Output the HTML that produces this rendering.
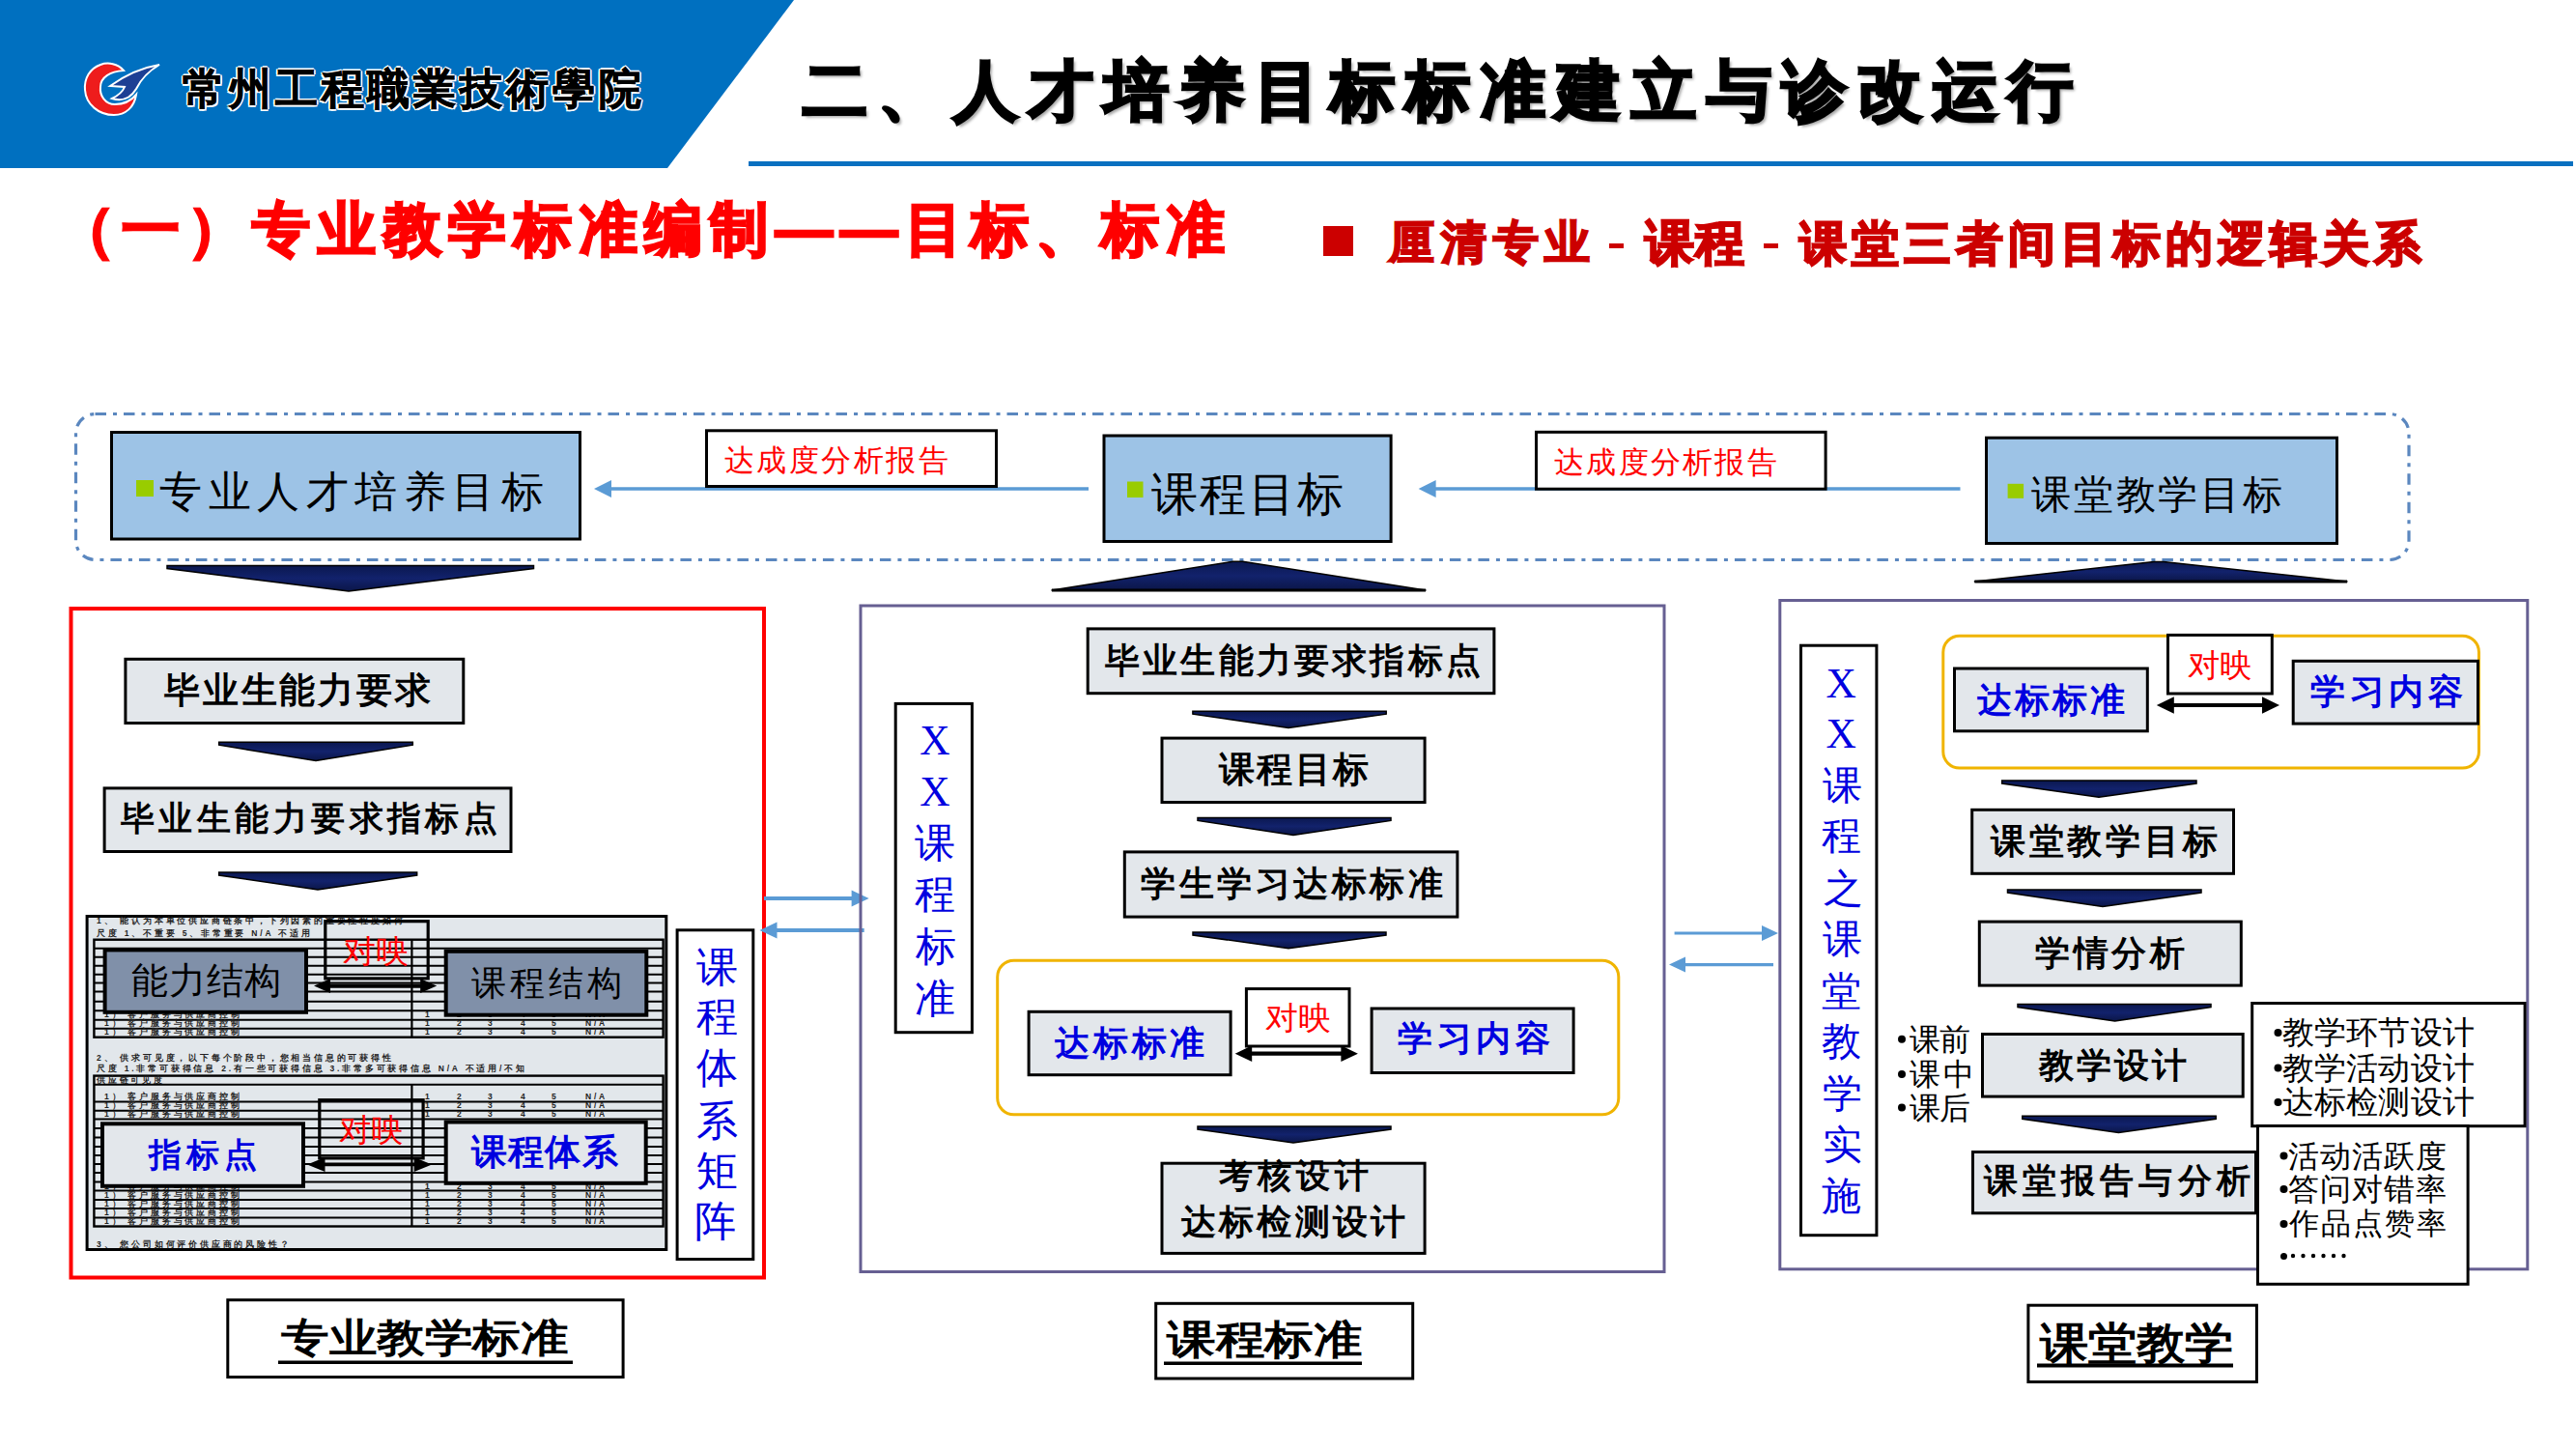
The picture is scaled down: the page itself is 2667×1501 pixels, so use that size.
<!DOCTYPE html><html><head><meta charset="utf-8"><style>html,body{margin:0;padding:0;background:#fff;width:2667px;height:1501px;overflow:hidden;}.t{position:absolute;white-space:nowrap;line-height:1;}svg{position:absolute;left:0;top:0;}</style></head><body>
<svg width="2667" height="1501" viewBox="0 0 2667 1501"><defs><linearGradient id="navy" x1="0" y1="0" x2="0" y2="1"><stop offset="0" stop-color="#0B1850"/><stop offset="0.5" stop-color="#12226C"/><stop offset="1" stop-color="#0B1648"/></linearGradient></defs><polygon points="0,0 822,0 691,174 0,174" fill="#0070C0"/><rect x="775" y="167" width="1889" height="5" fill="#0A70C0"/><path d="M128,73 C122,66 112,64 104,67 C93,71 87,81 88,93 C89,108 102,119 118,119 C130,119 139,111 141,98 C136,104 128,108 119,108 C109,108 103,99 104,90 C104,80 114,74 128,73 Z" fill="#EE1C1C" stroke="#fff" stroke-width="2"/><path d="M116,102 C122,99 127,95 129,90 L114,89 C128,79 147,70 165,67 C153,74 146,82 141,92 C135,102 126,105 116,102 Z" fill="#1D3F94" stroke="#fff" stroke-width="2"/><rect x="1370" y="234" width="31" height="31" fill="#CC0000"/><rect x="1666" y="252" width="15" height="5" fill="#CC0000"/><rect x="1826" y="252" width="15" height="5" fill="#CC0000"/><rect x="78.5" y="428.5" width="2415.5" height="151" rx="20" fill="none" stroke="#5B87BF" stroke-width="3.2" stroke-dasharray="11.5 7 4 7"/><rect x="115.5" y="447.5" width="485" height="110.5" fill="#9DC3E6" stroke="#000" stroke-width="3"/><rect x="1143.0" y="451.0" width="297.0999999999999" height="109.5" fill="#9DC3E6" stroke="#000" stroke-width="3"/><rect x="2056.5" y="453.2" width="363" height="109.30000000000001" fill="#9DC3E6" stroke="#000" stroke-width="3"/><rect x="141" y="497" width="18" height="17" fill="#99CC00"/><rect x="1167" y="498.5" width="16.5" height="16.5" fill="#99CC00"/><rect x="2078.6" y="500.8" width="16.5" height="15" fill="#99CC00"/><line x1="1127" y1="506" x2="631" y2="506" stroke="#5B9BD5" stroke-width="3.5"/><polygon points="615,506 633,497 633,515" fill="#5B9BD5"/><line x1="2029.5" y1="506" x2="1484.6" y2="506" stroke="#5B9BD5" stroke-width="3.5"/><polygon points="1468.6,506 1486.6,497 1486.6,515" fill="#5B9BD5"/><rect x="731.5" y="445.8" width="300" height="57.69999999999999" fill="#fff" stroke="#000" stroke-width="3"/><rect x="1590.5" y="447.3" width="299.5999999999999" height="58.89999999999998" fill="#fff" stroke="#000" stroke-width="3"/><polygon points="173,585.6 552.5,585.6 552.5,588.6 361,612 173,588.6" fill="url(#navy)" stroke="#000" stroke-width="1.5" stroke-linejoin="miter"/><polygon points="1089,611 1276.6,581.2 1286.6,581.2 1476,611" fill="url(#navy)" stroke="#000" stroke-width="1.5" stroke-linejoin="round"/><line x1="1089" y1="611" x2="1476" y2="611" stroke="#000" stroke-width="3"/><polygon points="2044.4,602 2230,581.5 2240,581.5 2430,602" fill="url(#navy)" stroke="#000" stroke-width="1.5" stroke-linejoin="round"/><line x1="2044.4" y1="602" x2="2430" y2="602" stroke="#000" stroke-width="3"/><rect x="73.5" y="630.0" width="717.5" height="692.5" fill="none" stroke="#FF0000" stroke-width="4"/><rect x="129.9" y="682.3" width="349.9" height="66.20000000000005" fill="#E3E7EB" stroke="#000" stroke-width="3"/><polygon points="226.7,768.2 427.3,768.2 427.3,771.2 327,787.5 226.7,771.2" fill="url(#navy)" stroke="#000" stroke-width="1.5" stroke-linejoin="miter"/><rect x="108.1" y="815.9" width="420.9" height="65.60000000000002" fill="#E3E7EB" stroke="#000" stroke-width="3"/><polygon points="226.7,903 431.7,903 431.7,906 329,921 226.7,906" fill="url(#navy)" stroke="#000" stroke-width="1.5" stroke-linejoin="miter"/><rect x="90.1" y="948.5" width="599.6999999999999" height="345" fill="#E2E7EB" stroke="#000" stroke-width="3"/><rect x="97.4" y="972.7" width="589.2" height="101.0" fill="none" stroke="#000" stroke-width="2.4"/><line x1="97.4" y1="981.8" x2="686.6" y2="981.8" stroke="#000" stroke-width="2"/><line x1="97.4" y1="990.8" x2="686.6" y2="990.8" stroke="#000" stroke-width="2"/><line x1="97.4" y1="999.7" x2="686.6" y2="999.7" stroke="#000" stroke-width="2"/><line x1="97.4" y1="1008.7" x2="686.6" y2="1008.7" stroke="#000" stroke-width="2"/><line x1="97.4" y1="1017.6" x2="686.6" y2="1017.6" stroke="#000" stroke-width="2"/><line x1="97.4" y1="1026.6" x2="686.6" y2="1026.6" stroke="#000" stroke-width="2"/><line x1="97.4" y1="1036.7" x2="686.6" y2="1036.7" stroke="#000" stroke-width="2"/><line x1="97.4" y1="1046.2" x2="686.6" y2="1046.2" stroke="#000" stroke-width="2"/><line x1="97.4" y1="1055.8" x2="686.6" y2="1055.8" stroke="#000" stroke-width="2"/><line x1="97.4" y1="1064.8" x2="686.6" y2="1064.8" stroke="#000" stroke-width="2"/><line x1="426.4" y1="972.7" x2="426.4" y2="1073.7" stroke="#000" stroke-width="2.2"/><rect x="97.4" y="1113.6" width="589.2" height="155.9000000000001" fill="none" stroke="#000" stroke-width="2.4"/><line x1="97.4" y1="1122.7" x2="686.6" y2="1122.7" stroke="#000" stroke-width="2"/><line x1="97.4" y1="1140.6" x2="686.6" y2="1140.6" stroke="#000" stroke-width="2"/><line x1="97.4" y1="1149.7" x2="686.6" y2="1149.7" stroke="#000" stroke-width="2"/><line x1="97.4" y1="1158.5" x2="686.6" y2="1158.5" stroke="#000" stroke-width="2"/><line x1="97.4" y1="1168" x2="686.6" y2="1168" stroke="#000" stroke-width="2"/><line x1="97.4" y1="1177.6" x2="686.6" y2="1177.6" stroke="#000" stroke-width="2"/><line x1="97.4" y1="1187" x2="686.6" y2="1187" stroke="#000" stroke-width="2"/><line x1="97.4" y1="1196" x2="686.6" y2="1196" stroke="#000" stroke-width="2"/><line x1="97.4" y1="1205" x2="686.6" y2="1205" stroke="#000" stroke-width="2"/><line x1="97.4" y1="1214" x2="686.6" y2="1214" stroke="#000" stroke-width="2"/><line x1="97.4" y1="1223.6" x2="686.6" y2="1223.6" stroke="#000" stroke-width="2"/><line x1="97.4" y1="1232.5" x2="686.6" y2="1232.5" stroke="#000" stroke-width="2"/><line x1="97.4" y1="1242" x2="686.6" y2="1242" stroke="#000" stroke-width="2"/><line x1="97.4" y1="1251" x2="686.6" y2="1251" stroke="#000" stroke-width="2"/><line x1="97.4" y1="1260.6" x2="686.6" y2="1260.6" stroke="#000" stroke-width="2"/><line x1="426.4" y1="1122.7" x2="426.4" y2="1269.5" stroke="#000" stroke-width="2.2"/><text x="100" y="956" font-size="8.5" fill="#222" font-weight="700" font-family="Liberation Sans, sans-serif" letter-spacing="2.8">1、 能认为本单位供应商链条中，下列因素的重要性程度如何</text><text x="100" y="969" font-size="8.5" fill="#222" font-weight="700" font-family="Liberation Sans, sans-serif" letter-spacing="2.8">尺度  1、不重要  5、非常重要   N/A  不适用</text><text x="100" y="1098" font-size="8.5" fill="#222" font-weight="700" font-family="Liberation Sans, sans-serif" letter-spacing="2.8">2、 供求可见度，以下每个阶段中，您相当信息的可获得性</text><text x="100" y="1109" font-size="8.5" fill="#222" font-weight="700" font-family="Liberation Sans, sans-serif" letter-spacing="2.8">尺度  1.非常可获得信息  2.有一些可获得信息 3.非常多可获得信息     N/A  不适用/不知</text><text x="100" y="1121" font-size="8.5" fill="#222" font-weight="700" font-family="Liberation Sans, sans-serif" letter-spacing="2.8">供应链可见度</text><text x="100" y="1291" font-size="8.5" fill="#222" font-weight="700" font-family="Liberation Sans, sans-serif" letter-spacing="2.8">3、 您公司如何评价供应商的风险性？</text><text x="108" y="1071" font-size="8.5" fill="#222" font-weight="700" font-family="Liberation Sans, sans-serif" letter-spacing="2.8">1） 客户服务与供应商控制</text><text x="440" y="1071" font-size="8.5" fill="#222" font-weight="700" font-family="Liberation Sans, sans-serif" letter-spacing="2.8">1</text><text x="473" y="1071" font-size="8.5" fill="#222" font-weight="700" font-family="Liberation Sans, sans-serif" letter-spacing="2.8">2</text><text x="505" y="1071" font-size="8.5" fill="#222" font-weight="700" font-family="Liberation Sans, sans-serif" letter-spacing="2.8">3</text><text x="539" y="1071" font-size="8.5" fill="#222" font-weight="700" font-family="Liberation Sans, sans-serif" letter-spacing="2.8">4</text><text x="571" y="1071" font-size="8.5" fill="#222" font-weight="700" font-family="Liberation Sans, sans-serif" letter-spacing="2.8">5</text><text x="606" y="1071" font-size="8.5" fill="#222" font-weight="700" font-family="Liberation Sans, sans-serif" letter-spacing="2.8">N/A</text><text x="108" y="1062" font-size="8.5" fill="#222" font-weight="700" font-family="Liberation Sans, sans-serif" letter-spacing="2.8">1） 客户服务与供应商控制</text><text x="440" y="1062" font-size="8.5" fill="#222" font-weight="700" font-family="Liberation Sans, sans-serif" letter-spacing="2.8">1</text><text x="473" y="1062" font-size="8.5" fill="#222" font-weight="700" font-family="Liberation Sans, sans-serif" letter-spacing="2.8">2</text><text x="505" y="1062" font-size="8.5" fill="#222" font-weight="700" font-family="Liberation Sans, sans-serif" letter-spacing="2.8">3</text><text x="539" y="1062" font-size="8.5" fill="#222" font-weight="700" font-family="Liberation Sans, sans-serif" letter-spacing="2.8">4</text><text x="571" y="1062" font-size="8.5" fill="#222" font-weight="700" font-family="Liberation Sans, sans-serif" letter-spacing="2.8">5</text><text x="606" y="1062" font-size="8.5" fill="#222" font-weight="700" font-family="Liberation Sans, sans-serif" letter-spacing="2.8">N/A</text><text x="108" y="1053" font-size="8.5" fill="#222" font-weight="700" font-family="Liberation Sans, sans-serif" letter-spacing="2.8">1） 客户服务与供应商控制</text><text x="440" y="1053" font-size="8.5" fill="#222" font-weight="700" font-family="Liberation Sans, sans-serif" letter-spacing="2.8">1</text><text x="473" y="1053" font-size="8.5" fill="#222" font-weight="700" font-family="Liberation Sans, sans-serif" letter-spacing="2.8">2</text><text x="505" y="1053" font-size="8.5" fill="#222" font-weight="700" font-family="Liberation Sans, sans-serif" letter-spacing="2.8">3</text><text x="539" y="1053" font-size="8.5" fill="#222" font-weight="700" font-family="Liberation Sans, sans-serif" letter-spacing="2.8">4</text><text x="571" y="1053" font-size="8.5" fill="#222" font-weight="700" font-family="Liberation Sans, sans-serif" letter-spacing="2.8">5</text><text x="606" y="1053" font-size="8.5" fill="#222" font-weight="700" font-family="Liberation Sans, sans-serif" letter-spacing="2.8">N/A</text><text x="108" y="1147" font-size="8.5" fill="#222" font-weight="700" font-family="Liberation Sans, sans-serif" letter-spacing="2.8">1） 客户服务与供应商控制</text><text x="440" y="1147" font-size="8.5" fill="#222" font-weight="700" font-family="Liberation Sans, sans-serif" letter-spacing="2.8">1</text><text x="473" y="1147" font-size="8.5" fill="#222" font-weight="700" font-family="Liberation Sans, sans-serif" letter-spacing="2.8">2</text><text x="505" y="1147" font-size="8.5" fill="#222" font-weight="700" font-family="Liberation Sans, sans-serif" letter-spacing="2.8">3</text><text x="539" y="1147" font-size="8.5" fill="#222" font-weight="700" font-family="Liberation Sans, sans-serif" letter-spacing="2.8">4</text><text x="571" y="1147" font-size="8.5" fill="#222" font-weight="700" font-family="Liberation Sans, sans-serif" letter-spacing="2.8">5</text><text x="606" y="1147" font-size="8.5" fill="#222" font-weight="700" font-family="Liberation Sans, sans-serif" letter-spacing="2.8">N/A</text><text x="108" y="1156" font-size="8.5" fill="#222" font-weight="700" font-family="Liberation Sans, sans-serif" letter-spacing="2.8">1） 客户服务与供应商控制</text><text x="440" y="1156" font-size="8.5" fill="#222" font-weight="700" font-family="Liberation Sans, sans-serif" letter-spacing="2.8">1</text><text x="473" y="1156" font-size="8.5" fill="#222" font-weight="700" font-family="Liberation Sans, sans-serif" letter-spacing="2.8">2</text><text x="505" y="1156" font-size="8.5" fill="#222" font-weight="700" font-family="Liberation Sans, sans-serif" letter-spacing="2.8">3</text><text x="539" y="1156" font-size="8.5" fill="#222" font-weight="700" font-family="Liberation Sans, sans-serif" letter-spacing="2.8">4</text><text x="571" y="1156" font-size="8.5" fill="#222" font-weight="700" font-family="Liberation Sans, sans-serif" letter-spacing="2.8">5</text><text x="606" y="1156" font-size="8.5" fill="#222" font-weight="700" font-family="Liberation Sans, sans-serif" letter-spacing="2.8">N/A</text><text x="108" y="1267" font-size="8.5" fill="#222" font-weight="700" font-family="Liberation Sans, sans-serif" letter-spacing="2.8">1） 客户服务与供应商控制</text><text x="440" y="1267" font-size="8.5" fill="#222" font-weight="700" font-family="Liberation Sans, sans-serif" letter-spacing="2.8">1</text><text x="473" y="1267" font-size="8.5" fill="#222" font-weight="700" font-family="Liberation Sans, sans-serif" letter-spacing="2.8">2</text><text x="505" y="1267" font-size="8.5" fill="#222" font-weight="700" font-family="Liberation Sans, sans-serif" letter-spacing="2.8">3</text><text x="539" y="1267" font-size="8.5" fill="#222" font-weight="700" font-family="Liberation Sans, sans-serif" letter-spacing="2.8">4</text><text x="571" y="1267" font-size="8.5" fill="#222" font-weight="700" font-family="Liberation Sans, sans-serif" letter-spacing="2.8">5</text><text x="606" y="1267" font-size="8.5" fill="#222" font-weight="700" font-family="Liberation Sans, sans-serif" letter-spacing="2.8">N/A</text><text x="108" y="1258" font-size="8.5" fill="#222" font-weight="700" font-family="Liberation Sans, sans-serif" letter-spacing="2.8">1） 客户服务与供应商控制</text><text x="440" y="1258" font-size="8.5" fill="#222" font-weight="700" font-family="Liberation Sans, sans-serif" letter-spacing="2.8">1</text><text x="473" y="1258" font-size="8.5" fill="#222" font-weight="700" font-family="Liberation Sans, sans-serif" letter-spacing="2.8">2</text><text x="505" y="1258" font-size="8.5" fill="#222" font-weight="700" font-family="Liberation Sans, sans-serif" letter-spacing="2.8">3</text><text x="539" y="1258" font-size="8.5" fill="#222" font-weight="700" font-family="Liberation Sans, sans-serif" letter-spacing="2.8">4</text><text x="571" y="1258" font-size="8.5" fill="#222" font-weight="700" font-family="Liberation Sans, sans-serif" letter-spacing="2.8">5</text><text x="606" y="1258" font-size="8.5" fill="#222" font-weight="700" font-family="Liberation Sans, sans-serif" letter-spacing="2.8">N/A</text><text x="108" y="1249" font-size="8.5" fill="#222" font-weight="700" font-family="Liberation Sans, sans-serif" letter-spacing="2.8">1） 客户服务与供应商控制</text><text x="440" y="1249" font-size="8.5" fill="#222" font-weight="700" font-family="Liberation Sans, sans-serif" letter-spacing="2.8">1</text><text x="473" y="1249" font-size="8.5" fill="#222" font-weight="700" font-family="Liberation Sans, sans-serif" letter-spacing="2.8">2</text><text x="505" y="1249" font-size="8.5" fill="#222" font-weight="700" font-family="Liberation Sans, sans-serif" letter-spacing="2.8">3</text><text x="539" y="1249" font-size="8.5" fill="#222" font-weight="700" font-family="Liberation Sans, sans-serif" letter-spacing="2.8">4</text><text x="571" y="1249" font-size="8.5" fill="#222" font-weight="700" font-family="Liberation Sans, sans-serif" letter-spacing="2.8">5</text><text x="606" y="1249" font-size="8.5" fill="#222" font-weight="700" font-family="Liberation Sans, sans-serif" letter-spacing="2.8">N/A</text><text x="108" y="1240" font-size="8.5" fill="#222" font-weight="700" font-family="Liberation Sans, sans-serif" letter-spacing="2.8">1） 客户服务与供应商控制</text><text x="440" y="1240" font-size="8.5" fill="#222" font-weight="700" font-family="Liberation Sans, sans-serif" letter-spacing="2.8">1</text><text x="473" y="1240" font-size="8.5" fill="#222" font-weight="700" font-family="Liberation Sans, sans-serif" letter-spacing="2.8">2</text><text x="505" y="1240" font-size="8.5" fill="#222" font-weight="700" font-family="Liberation Sans, sans-serif" letter-spacing="2.8">3</text><text x="539" y="1240" font-size="8.5" fill="#222" font-weight="700" font-family="Liberation Sans, sans-serif" letter-spacing="2.8">4</text><text x="571" y="1240" font-size="8.5" fill="#222" font-weight="700" font-family="Liberation Sans, sans-serif" letter-spacing="2.8">5</text><text x="606" y="1240" font-size="8.5" fill="#222" font-weight="700" font-family="Liberation Sans, sans-serif" letter-spacing="2.8">N/A</text><text x="108" y="1231" font-size="8.5" fill="#222" font-weight="700" font-family="Liberation Sans, sans-serif" letter-spacing="2.8">1） 客户服务与供应商控制</text><text x="440" y="1231" font-size="8.5" fill="#222" font-weight="700" font-family="Liberation Sans, sans-serif" letter-spacing="2.8">1</text><text x="473" y="1231" font-size="8.5" fill="#222" font-weight="700" font-family="Liberation Sans, sans-serif" letter-spacing="2.8">2</text><text x="505" y="1231" font-size="8.5" fill="#222" font-weight="700" font-family="Liberation Sans, sans-serif" letter-spacing="2.8">3</text><text x="539" y="1231" font-size="8.5" fill="#222" font-weight="700" font-family="Liberation Sans, sans-serif" letter-spacing="2.8">4</text><text x="571" y="1231" font-size="8.5" fill="#222" font-weight="700" font-family="Liberation Sans, sans-serif" letter-spacing="2.8">5</text><text x="606" y="1231" font-size="8.5" fill="#222" font-weight="700" font-family="Liberation Sans, sans-serif" letter-spacing="2.8">N/A</text><text x="108" y="1138" font-size="8.5" fill="#222" font-weight="700" font-family="Liberation Sans, sans-serif" letter-spacing="2.8">1） 客户服务与供应商控制</text><text x="440" y="1138" font-size="8.5" fill="#222" font-weight="700" font-family="Liberation Sans, sans-serif" letter-spacing="2.8">1</text><text x="473" y="1138" font-size="8.5" fill="#222" font-weight="700" font-family="Liberation Sans, sans-serif" letter-spacing="2.8">2</text><text x="505" y="1138" font-size="8.5" fill="#222" font-weight="700" font-family="Liberation Sans, sans-serif" letter-spacing="2.8">3</text><text x="539" y="1138" font-size="8.5" fill="#222" font-weight="700" font-family="Liberation Sans, sans-serif" letter-spacing="2.8">4</text><text x="571" y="1138" font-size="8.5" fill="#222" font-weight="700" font-family="Liberation Sans, sans-serif" letter-spacing="2.8">5</text><text x="606" y="1138" font-size="8.5" fill="#222" font-weight="700" font-family="Liberation Sans, sans-serif" letter-spacing="2.8">N/A</text><rect x="336.8" y="953.7" width="106.40000000000002" height="59.199999999999974" fill="none" stroke="#000" stroke-width="3.2"/><rect x="108.6" y="983.4" width="208.4" height="64.39999999999998" fill="#8090A9" stroke="#000" stroke-width="4"/><rect x="461.7" y="984.8" width="207.59999999999997" height="65.90000000000009" fill="#8090A9" stroke="#000" stroke-width="4"/><line x1="340" y1="1020.6" x2="437.2" y2="1020.6" stroke="#000" stroke-width="4.2"/><polygon points="325,1020.6 342,1013.1 342,1028.1" fill="#000"/><polygon points="452.2,1020.6 435.2,1013.1 435.2,1028.1" fill="#000"/><rect x="330.8" y="1138.6999999999998" width="107.3" height="60.20000000000009" fill="none" stroke="#000" stroke-width="3.2"/><rect x="106.0" y="1163.3" width="208" height="64.5" fill="#E3E7EB" stroke="#000" stroke-width="4"/><rect x="461.7" y="1161.5" width="207.00000000000006" height="63.299999999999955" fill="#E3E7EB" stroke="#000" stroke-width="4"/><line x1="334.5" y1="1205.4" x2="430.7" y2="1205.4" stroke="#000" stroke-width="3.8"/><polygon points="318,1205.4 336.5,1197.9 336.5,1212.9" fill="#000"/><polygon points="447.2,1205.4 428.7,1197.9 428.7,1212.9" fill="#000"/><rect x="701.1" y="962.8" width="78.69999999999993" height="340.70000000000005" fill="#fff" stroke="#000" stroke-width="3"/><line x1="791" y1="930" x2="883.6" y2="930" stroke="#5B9BD5" stroke-width="4"/><polygon points="899.6,930 881.6,921.5 881.6,938.5" fill="#5B9BD5"/><line x1="894.7" y1="963" x2="802.5" y2="963" stroke="#5B9BD5" stroke-width="4"/><polygon points="786.5,963 804.5,954.5 804.5,971.5" fill="#5B9BD5"/><line x1="1733.6" y1="966" x2="1826" y2="966" stroke="#5B9BD5" stroke-width="3.2"/><polygon points="1841,966 1824,958 1824,974" fill="#5B9BD5"/><line x1="1836" y1="998.6" x2="1743" y2="998.6" stroke="#5B9BD5" stroke-width="3.2"/><polygon points="1728,998.6 1745,990.6 1745,1006.6" fill="#5B9BD5"/><rect x="891.0" y="627.0" width="832.0" height="689.5" fill="none" stroke="#665F92" stroke-width="3"/><rect x="927.2" y="728.4" width="79.19999999999993" height="340.30000000000007" fill="#fff" stroke="#000" stroke-width="3"/><rect x="1126.2" y="650.9" width="420.70000000000005" height="66.80000000000007" fill="#E3E7EB" stroke="#000" stroke-width="3"/><polygon points="1234.9,736.2 1435.2,736.2 1435.2,739.2 1334,753.6 1234.9,739.2" fill="url(#navy)" stroke="#000" stroke-width="1.5" stroke-linejoin="miter"/><rect x="1203.0" y="764.1" width="272.0999999999999" height="66.39999999999998" fill="#E3E7EB" stroke="#000" stroke-width="3"/><polygon points="1240,846.4 1440,846.4 1440,849.4 1339,864.4 1240,849.4" fill="url(#navy)" stroke="#000" stroke-width="1.5" stroke-linejoin="miter"/><rect x="1164.3" y="881.9" width="344.60000000000014" height="67.20000000000005" fill="#E3E7EB" stroke="#000" stroke-width="3"/><polygon points="1235,965 1435,965 1435,968 1334,981.7 1235,968" fill="url(#navy)" stroke="#000" stroke-width="1.5" stroke-linejoin="miter"/><rect x="1032.7" y="994.2" width="643.1" height="159.6" rx="17" fill="none" stroke="#F0B400" stroke-width="3"/><rect x="1065.1" y="1047.3" width="209.0" height="65.40000000000009" fill="#E3E7EB" stroke="#000" stroke-width="3"/><rect x="1290.4" y="1023.6" width="106.59999999999991" height="59.39999999999998" fill="#fff" stroke="#000" stroke-width="3"/><line x1="1294.2" y1="1090.7" x2="1390.4" y2="1090.7" stroke="#000" stroke-width="4.3"/><polygon points="1278.7,1090.7 1296.2,1082.3 1296.2,1099.1000000000001" fill="#000"/><polygon points="1405.9,1090.7 1388.4,1082.3 1388.4,1099.1000000000001" fill="#000"/><rect x="1420.1" y="1044.0" width="209.0" height="66.5" fill="#E3E7EB" stroke="#000" stroke-width="3"/><polygon points="1240,1166 1440,1166 1440,1169 1339,1183 1240,1169" fill="url(#navy)" stroke="#000" stroke-width="1.5" stroke-linejoin="miter"/><rect x="1203.0" y="1204.2" width="272.0999999999999" height="93.20000000000005" fill="#E3E7EB" stroke="#000" stroke-width="3"/><rect x="1842.8" y="621.5" width="774.0000000000002" height="692.3" fill="none" stroke="#665F92" stroke-width="3"/><rect x="1864.5" y="668.2" width="78.40000000000009" height="610.5" fill="#fff" stroke="#000" stroke-width="3"/><rect x="2011.8" y="658.2" width="554.7" height="136.9" rx="17" fill="none" stroke="#F0B400" stroke-width="3"/><rect x="2023.5" y="692.0" width="199.80000000000018" height="64.79999999999995" fill="#E3E7EB" stroke="#000" stroke-width="3"/><rect x="2244.5" y="657.4" width="107.80000000000018" height="60.60000000000002" fill="#fff" stroke="#000" stroke-width="3"/><line x1="2248.8" y1="730" x2="2344" y2="730" stroke="#000" stroke-width="3.8"/><polygon points="2232.8,730 2250.8,721.3 2250.8,738.7" fill="#000"/><polygon points="2360,730 2342,721.3 2342,738.7" fill="#000"/><rect x="2374.2" y="684.3" width="191.30000000000018" height="64.80000000000007" fill="#E3E7EB" stroke="#000" stroke-width="3"/><polygon points="2072.7,808 2274,808 2274,811 2173,825.3 2072.7,811" fill="url(#navy)" stroke="#000" stroke-width="1.5" stroke-linejoin="miter"/><rect x="2041.7" y="838.3" width="270.79999999999995" height="66.0" fill="#E3E7EB" stroke="#000" stroke-width="3"/><polygon points="2078.5,921 2279,921 2279,924 2177,938.4 2078.5,924" fill="url(#navy)" stroke="#000" stroke-width="1.5" stroke-linejoin="miter"/><rect x="2049.3" y="954.1" width="271.0000000000002" height="66.0" fill="#E3E7EB" stroke="#000" stroke-width="3"/><polygon points="2089,1039.6 2289,1039.6 2289,1042.6 2189.6,1056.9 2089,1042.6" fill="url(#navy)" stroke="#000" stroke-width="1.5" stroke-linejoin="miter"/><rect x="2052.5" y="1070.5" width="269.6999999999998" height="64.59999999999991" fill="#E3E7EB" stroke="#000" stroke-width="3"/><polygon points="2093.8,1155.3 2294.2,1155.3 2294.2,1158.3 2193.4,1172.6 2093.8,1158.3" fill="url(#navy)" stroke="#000" stroke-width="1.5" stroke-linejoin="miter"/><rect x="2042.5" y="1192.5" width="293" height="63.299999999999955" fill="#E3E7EB" stroke="#000" stroke-width="3"/><circle cx="1969" cy="1075.7" r="4" fill="#000"/><circle cx="1969" cy="1112" r="4" fill="#000"/><circle cx="1969" cy="1146.6" r="4" fill="#000"/><rect x="2331.7" y="1038.5" width="282.4000000000001" height="127.20000000000005" fill="#fff" stroke="#000" stroke-width="3"/><rect x="2337.5" y="1165.5" width="217.5999999999999" height="163.79999999999995" fill="#fff" stroke="#000" stroke-width="3"/><circle cx="2358.5" cy="1069" r="4" fill="#000"/><circle cx="2358.5" cy="1105.4" r="4" fill="#000"/><circle cx="2358.5" cy="1141" r="4" fill="#000"/><circle cx="2364.5" cy="1196.6" r="4" fill="#000"/><circle cx="2364.5" cy="1231" r="4" fill="#000"/><circle cx="2364.5" cy="1267" r="4" fill="#000"/><circle cx="2364.5" cy="1300.5" r="3.5" fill="#000"/><circle cx="2374.0" cy="1300" r="2.2" fill="#000"/><circle cx="2384.5" cy="1300" r="2.2" fill="#000"/><circle cx="2395.0" cy="1300" r="2.2" fill="#000"/><circle cx="2405.5" cy="1300" r="2.2" fill="#000"/><circle cx="2416.0" cy="1300" r="2.2" fill="#000"/><circle cx="2426.5" cy="1300" r="2.2" fill="#000"/><rect x="235.8" y="1345.7" width="409.3" height="79.79999999999995" fill="#fff" stroke="#000" stroke-width="3"/><rect x="1196.7" y="1349.3" width="266.0" height="77.70000000000005" fill="#fff" stroke="#000" stroke-width="3"/><rect x="2099.9" y="1351.2" width="236.5" height="79.29999999999995" fill="#fff" stroke="#000" stroke-width="3"/><rect x="288" y="1408.5" width="305" height="3.5" fill="#000"/><rect x="1205" y="1409.5" width="205" height="3.5" fill="#000"/><rect x="2109" y="1411.5" width="203" height="4" fill="#000"/></svg>
<div id="logo" class="t" style="left:189.10px;top:71.10px;font-size:44.00px;letter-spacing:3.83px;font-family:'Liberation Serif', serif;font-weight:900;color:#000;text-shadow:2px 0 0 #fff,-2px 0 0 #fff,0 2px 0 #fff,0 -2px 0 #fff,1.5px 1.5px 0 #fff,-1.5px -1.5px 0 #fff,1.5px -1.5px 0 #fff,-1.5px 1.5px 0 #fff;-webkit-text-stroke:0.8px #000;">常州工程職業技術學院</div>
<div id="title" class="t" style="left:831.12px;top:60.37px;font-size:67.11px;letter-spacing:11.00px;font-family:'Liberation Sans', sans-serif;font-weight:700;color:#000;text-shadow:3px 3px 3px rgba(0,0,0,0.35);-webkit-text-stroke:3px #000;">二、人才培养目标标准建立与诊改运行</div>
<div id="sub1" class="t" style="left:58.61px;top:207.69px;font-size:59.79px;letter-spacing:7.62px;font-family:'Liberation Sans', sans-serif;font-weight:700;color:#FF0000;-webkit-text-stroke:2.5px #FF0000;">（一）专业教学标准编制——目标、标准</div>
<div id="sub2a" class="t" style="left:1437.83px;top:226.80px;font-size:47.33px;letter-spacing:6.88px;font-family:'Liberation Sans', sans-serif;font-weight:700;color:#CC0000;-webkit-text-stroke:2px #CC0000;">厘清专业</div>
<div id="sub2b" class="t" style="left:1702.84px;top:227.01px;font-size:50.79px;letter-spacing:1.50px;font-family:'Liberation Sans', sans-serif;font-weight:700;color:#CC0000;-webkit-text-stroke:2px #CC0000;">课程</div>
<div id="sub2c" class="t" style="left:1862.83px;top:226.71px;font-size:49.16px;letter-spacing:5.12px;font-family:'Liberation Sans', sans-serif;font-weight:700;color:#CC0000;-webkit-text-stroke:2px #CC0000;">课堂三者间目标的逻辑关系</div>
<div id="b1" class="t" style="left:165.12px;top:488.00px;font-size:44.08px;letter-spacing:6.55px;font-family:'Liberation Serif', serif;font-weight:400;color:#000;">专业人才培养目标</div>
<div id="b2" class="t" style="left:1192.00px;top:487.99px;font-size:47.98px;letter-spacing:2.43px;font-family:'Liberation Serif', serif;font-weight:400;color:#000;">课程目标</div>
<div id="b3" class="t" style="left:2103.00px;top:491.61px;font-size:41.36px;letter-spacing:2.75px;font-family:'Liberation Serif', serif;font-weight:400;color:#000;">课堂教学目标</div>
<div id="r1" class="t" style="left:750.06px;top:460.90px;font-size:31.13px;letter-spacing:2.45px;font-family:'Liberation Sans', sans-serif;font-weight:400;color:#FF0000;">达成度分析报告</div>
<div id="r2" class="t" style="left:1609.14px;top:462.51px;font-size:31.24px;letter-spacing:2.26px;font-family:'Liberation Sans', sans-serif;font-weight:400;color:#FF0000;">达成度分析报告</div>
<div id="lg1" class="t" style="left:170.04px;top:697.01px;font-size:36.86px;letter-spacing:2.81px;font-family:'Liberation Serif', serif;font-weight:700;color:#000;">毕业生能力要求</div>
<div id="lg2" class="t" style="left:125.05px;top:830.94px;font-size:34.95px;letter-spacing:4.42px;font-family:'Liberation Serif', serif;font-weight:700;color:#000;">毕业生能力要求指标点</div>
<div id="nljg" class="t" style="left:136.07px;top:997.00px;font-size:37.80px;letter-spacing:0.86px;font-family:'Liberation Sans', sans-serif;font-weight:500;color:#000;">能力结构</div>
<div id="kcjg" class="t" style="left:488.02px;top:1001.19px;font-size:35.61px;letter-spacing:4.14px;font-family:'Liberation Sans', sans-serif;font-weight:500;color:#000;">课程结构</div>
<div id="dy1" class="t" style="left:355.03px;top:967.84px;font-size:33.19px;letter-spacing:0.00px;font-family:'Liberation Sans', sans-serif;font-weight:400;color:#FF0000;transform:scaleX(1.0297);transform-origin:0 0;">对映</div>
<div id="zbd" class="t" style="left:153.86px;top:1177.99px;font-size:33.98px;letter-spacing:5.01px;font-family:'Liberation Sans', sans-serif;font-weight:700;color:#0000E0;">指标点</div>
<div id="kctx" class="t" style="left:488.02px;top:1173.90px;font-size:37.11px;letter-spacing:1.23px;font-family:'Liberation Sans', sans-serif;font-weight:700;color:#0000E0;">课程体系</div>
<div id="dy2" class="t" style="left:351.03px;top:1152.84px;font-size:33.19px;letter-spacing:0.00px;font-family:'Liberation Sans', sans-serif;font-weight:400;color:#FF0000;transform:scaleX(1.0141);transform-origin:0 0;">对映</div>
<div id="v1_0" class="t" style="left:720.96px;top:979.96px;font-size:43.00px;letter-spacing:0.00px;font-family:'Liberation Serif', serif;font-weight:400;color:#0000E0;">课</div>
<div id="v1_1" class="t" style="left:720.53px;top:1030.96px;font-size:43.00px;letter-spacing:0.00px;font-family:'Liberation Serif', serif;font-weight:400;color:#0000E0;">程</div>
<div id="v1_2" class="t" style="left:721.03px;top:1084.46px;font-size:43.00px;letter-spacing:0.00px;font-family:'Liberation Serif', serif;font-weight:400;color:#0000E0;">体</div>
<div id="v1_3" class="t" style="left:720.59px;top:1138.74px;font-size:43.00px;letter-spacing:0.00px;font-family:'Liberation Serif', serif;font-weight:400;color:#0000E0;">系</div>
<div id="v1_4" class="t" style="left:721.09px;top:1191.13px;font-size:43.00px;letter-spacing:0.00px;font-family:'Liberation Serif', serif;font-weight:400;color:#0000E0;">矩</div>
<div id="v1_5" class="t" style="left:719.06px;top:1243.07px;font-size:43.00px;letter-spacing:0.00px;font-family:'Liberation Serif', serif;font-weight:400;color:#0000E0;">阵</div>
<div id="v2_0" class="t" style="left:952.19px;top:744.98px;font-size:43.40px;letter-spacing:0.00px;font-family:'Liberation Serif', serif;font-weight:400;color:#0000E0;">X</div>
<div id="v2_1" class="t" style="left:952.19px;top:797.98px;font-size:43.40px;letter-spacing:0.00px;font-family:'Liberation Serif', serif;font-weight:400;color:#0000E0;">X</div>
<div id="v2_2" class="t" style="left:947.16px;top:853.18px;font-size:41.50px;letter-spacing:0.00px;font-family:'Liberation Serif', serif;font-weight:400;color:#0000E0;">课</div>
<div id="v2_3" class="t" style="left:946.73px;top:906.10px;font-size:41.50px;letter-spacing:0.00px;font-family:'Liberation Serif', serif;font-weight:400;color:#0000E0;">程</div>
<div id="v2_4" class="t" style="left:948.08px;top:960.24px;font-size:41.50px;letter-spacing:0.00px;font-family:'Liberation Serif', serif;font-weight:400;color:#0000E0;">标</div>
<div id="v2_5" class="t" style="left:947.13px;top:1014.04px;font-size:41.50px;letter-spacing:0.00px;font-family:'Liberation Serif', serif;font-weight:400;color:#0000E0;">准</div>
<div id="mg1" class="t" style="left:1144.00px;top:665.86px;font-size:36.28px;letter-spacing:3.19px;font-family:'Liberation Serif', serif;font-weight:700;color:#000;">毕业生能力要求指标点</div>
<div id="mg2" class="t" style="left:1262.00px;top:779.07px;font-size:36.92px;letter-spacing:2.41px;font-family:'Liberation Serif', serif;font-weight:700;color:#000;">课程目标</div>
<div id="mg3" class="t" style="left:1181.09px;top:897.98px;font-size:35.82px;letter-spacing:3.50px;font-family:'Liberation Serif', serif;font-weight:700;color:#000;">学生学习达标标准</div>
<div id="mdb" class="t" style="left:1092.00px;top:1063.03px;font-size:35.87px;letter-spacing:3.80px;font-family:'Liberation Sans', sans-serif;font-weight:700;color:#0000E0;">达标标准</div>
<div id="mdy" class="t" style="left:1310.03px;top:1036.84px;font-size:33.19px;letter-spacing:0.00px;font-family:'Liberation Sans', sans-serif;font-weight:400;color:#FF0000;transform:scaleX(1.0297);transform-origin:0 0;">对映</div>
<div id="mxx" class="t" style="left:1447.17px;top:1058.05px;font-size:35.80px;letter-spacing:4.46px;font-family:'Liberation Sans', sans-serif;font-weight:700;color:#0000E0;">学习内容</div>
<div id="mk1" class="t" style="left:1262.08px;top:1201.14px;font-size:34.96px;letter-spacing:5.00px;font-family:'Liberation Serif', serif;font-weight:700;color:#000;">考核设计</div>
<div id="mk2" class="t" style="left:1223.00px;top:1247.98px;font-size:35.82px;letter-spacing:3.21px;font-family:'Liberation Serif', serif;font-weight:700;color:#000;">达标检测设计</div>
<div id="v3_0" class="t" style="left:1890.40px;top:685.51px;font-size:43.40px;letter-spacing:0.00px;font-family:'Liberation Serif', serif;font-weight:400;color:#0000E0;">X</div>
<div id="v3_1" class="t" style="left:1890.40px;top:738.18px;font-size:43.40px;letter-spacing:0.00px;font-family:'Liberation Serif', serif;font-weight:400;color:#0000E0;">X</div>
<div id="v3_2" class="t" style="left:1886.94px;top:794.14px;font-size:40.50px;letter-spacing:0.00px;font-family:'Liberation Serif', serif;font-weight:400;color:#0000E0;">课</div>
<div id="v3_3" class="t" style="left:1886.48px;top:845.97px;font-size:40.50px;letter-spacing:0.00px;font-family:'Liberation Serif', serif;font-weight:400;color:#0000E0;">程</div>
<div id="v3_4" class="t" style="left:1887.65px;top:900.76px;font-size:40.50px;letter-spacing:0.00px;font-family:'Liberation Serif', serif;font-weight:400;color:#0000E0;">之</div>
<div id="v3_5" class="t" style="left:1886.94px;top:952.91px;font-size:40.50px;letter-spacing:0.00px;font-family:'Liberation Serif', serif;font-weight:400;color:#0000E0;">课</div>
<div id="v3_6" class="t" style="left:1886.49px;top:1007.15px;font-size:40.50px;letter-spacing:0.00px;font-family:'Liberation Serif', serif;font-weight:400;color:#0000E0;">堂</div>
<div id="v3_7" class="t" style="left:1886.46px;top:1059.43px;font-size:40.50px;letter-spacing:0.00px;font-family:'Liberation Serif', serif;font-weight:400;color:#0000E0;">教</div>
<div id="v3_8" class="t" style="left:1887.02px;top:1112.59px;font-size:40.50px;letter-spacing:0.00px;font-family:'Liberation Serif', serif;font-weight:400;color:#0000E0;">学</div>
<div id="v3_9" class="t" style="left:1886.64px;top:1165.82px;font-size:40.50px;letter-spacing:0.00px;font-family:'Liberation Serif', serif;font-weight:400;color:#0000E0;">实</div>
<div id="v3_10" class="t" style="left:1885.98px;top:1218.60px;font-size:40.50px;letter-spacing:0.00px;font-family:'Liberation Serif', serif;font-weight:400;color:#0000E0;">施</div>
<div id="rdb" class="t" style="left:2047.00px;top:706.95px;font-size:36.02px;letter-spacing:2.98px;font-family:'Liberation Sans', sans-serif;font-weight:700;color:#0000E0;">达标标准</div>
<div id="rdy" class="t" style="left:2265.03px;top:671.84px;font-size:33.19px;letter-spacing:0.00px;font-family:'Liberation Sans', sans-serif;font-weight:400;color:#FF0000;transform:scaleX(1.0141);transform-origin:0 0;">对映</div>
<div id="rxx" class="t" style="left:2392.07px;top:699.02px;font-size:35.80px;letter-spacing:4.48px;font-family:'Liberation Sans', sans-serif;font-weight:700;color:#0000E0;">学习内容</div>
<div id="rg1" class="t" style="left:2060.98px;top:853.86px;font-size:35.96px;letter-spacing:3.75px;font-family:'Liberation Serif', serif;font-weight:700;color:#000;">课堂教学目标</div>
<div id="rg2" class="t" style="left:2107.07px;top:970.03px;font-size:35.91px;letter-spacing:3.66px;font-family:'Liberation Serif', serif;font-weight:700;color:#000;">学情分析</div>
<div id="rg3" class="t" style="left:2111.00px;top:1086.03px;font-size:35.96px;letter-spacing:3.02px;font-family:'Liberation Serif', serif;font-weight:700;color:#000;">教学设计</div>
<div id="rg4" class="t" style="left:2054.07px;top:1206.03px;font-size:34.94px;letter-spacing:5.09px;font-family:'Liberation Serif', serif;font-weight:700;color:#000;">课堂报告与分析</div>
<div id="kq0" class="t" style="left:1977.00px;top:1060.94px;font-size:31.93px;letter-spacing:-0.93px;font-family:'Liberation Serif', serif;font-weight:400;color:#000;">课前</div>
<div id="kq1" class="t" style="left:1977.00px;top:1096.92px;font-size:31.96px;letter-spacing:2.81px;font-family:'Liberation Serif', serif;font-weight:400;color:#000;">课中</div>
<div id="kq2" class="t" style="left:1977.00px;top:1131.94px;font-size:31.96px;letter-spacing:-1.01px;font-family:'Liberation Serif', serif;font-weight:400;color:#000;">课后</div>
<div id="jx0" class="t" style="left:2363.06px;top:1051.75px;font-size:33.19px;letter-spacing:0.14px;font-family:'Liberation Serif', serif;font-weight:400;color:#000;">教学环节设计</div>
<div id="jx1" class="t" style="left:2363.06px;top:1088.71px;font-size:33.19px;letter-spacing:0.14px;font-family:'Liberation Serif', serif;font-weight:400;color:#000;">教学活动设计</div>
<div id="jx2" class="t" style="left:2363.06px;top:1123.75px;font-size:33.19px;letter-spacing:0.14px;font-family:'Liberation Serif', serif;font-weight:400;color:#000;">达标检测设计</div>
<div id="hd0" class="t" style="left:2369.10px;top:1180.72px;font-size:32.06px;letter-spacing:1.09px;font-family:'Liberation Serif', serif;font-weight:400;color:#000;">活动活跃度</div>
<div id="hd1" class="t" style="left:2369.11px;top:1214.79px;font-size:32.12px;letter-spacing:1.02px;font-family:'Liberation Serif', serif;font-weight:400;color:#000;">答问对错率</div>
<div id="hd2" class="t" style="left:2370.05px;top:1250.80px;font-size:31.12px;letter-spacing:2.03px;font-family:'Liberation Serif', serif;font-weight:400;color:#000;">作品点赞率</div>
<div id="L1" class="t" style="left:291.00px;top:1366.10px;font-size:40.92px;letter-spacing:0.00px;font-family:'Liberation Serif', serif;font-weight:700;color:#000;transform:scaleX(1.2099);transform-origin:0 0;">专业教学标准</div>
<div id="L2" class="t" style="left:1208.04px;top:1367.21px;font-size:41.69px;letter-spacing:0.00px;font-family:'Liberation Serif', serif;font-weight:700;color:#000;transform:scaleX(1.2036);transform-origin:0 0;">课程标准</div>
<div id="L3" class="t" style="left:2111.99px;top:1368.81px;font-size:45.13px;letter-spacing:0.00px;font-family:'Liberation Serif', serif;font-weight:700;color:#000;transform:scaleX(1.1140);transform-origin:0 0;">课堂教学</div>
</body></html>
